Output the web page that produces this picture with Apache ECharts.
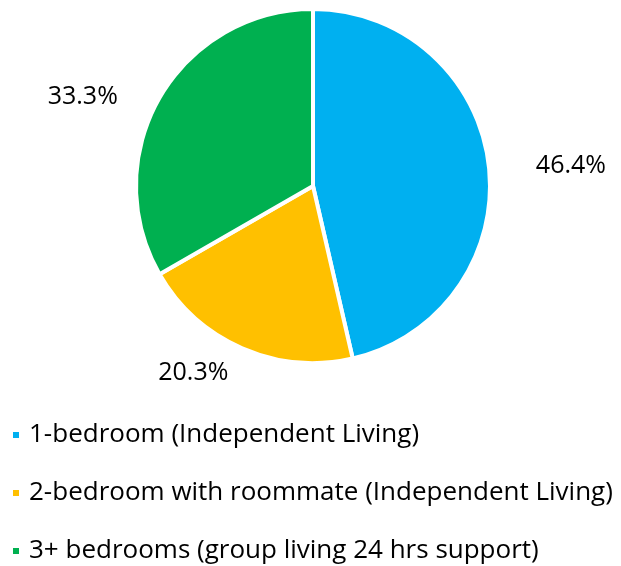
<!DOCTYPE html>
<html>
<head>
<meta charset="utf-8">
<script src="https://cdn.jsdelivr.net/npm/echarts@6/dist/echarts.min.js"></script>
<style>
  html, body { margin: 0; padding: 0; background: #fff; }
  #chart { width: 621px; height: 566px; }
</style>
</head>
<body>
<div id="chart"></div>
<script>
// 住房类型占比
const categories = [
  '1-bedroom (Independent Living)',
  '2-bedroom with roommate (Independent Living)',
  '3+ bedrooms (group living 24 hrs support)'
];
const shares = [46.4, 20.3, 33.3];
const colors = ['#00B0F0', '#FFC000', '#00B050'];

// 每个标签的引导线长度（标签线隐藏，只用于定位）
const lineLen = [0, 27, 0];
const lineLen2 = [47, 3, 42];
const labelPadTop = [8, 0, 0];

const chart = echarts.init(document.getElementById('chart'));

const font = '"Open Sans", "Noto Sans", sans-serif';

chart.setOption({
  backgroundColor: '#fff',
  animation: false,
  color: colors,
  legend: {
    orient: 'vertical',
    left: 11,
    top: 422,
    padding: 0,
    icon: 'rect',
    itemWidth: 8,
    itemHeight: 8,
    itemGap: 32,
    data: categories,
    textStyle: {
      color: '#000',
      fontSize: 26,
      fontFamily: font,
      padding: [0, 0, 0, 4]
    }
  },
  series: [
    {
      type: 'pie',
      center: [313, 186],
      radius: 177,
      startAngle: 90,
      clockwise: true,
      avoidLabelOverlap: false,
      itemStyle: { borderColor: '#fff', borderWidth: 4 },
      label: {
        position: 'outside',
        color: '#000',
        fontSize: 25,
        fontFamily: font,
        distanceToLabelLine: 0,
        formatter: p => p.value.toFixed(1) + '%'
      },
      labelLine: { show: false },
      emphasis: { disabled: true },
      data: categories.map((name, i) => ({
        name,
        value: shares[i],
        label: { padding: [labelPadTop[i], 0, 0, 0] },
        labelLine: { show: false, length: lineLen[i], length2: lineLen2[i] }
      }))
    }
  ]
});
</script>
</body>
</html>
